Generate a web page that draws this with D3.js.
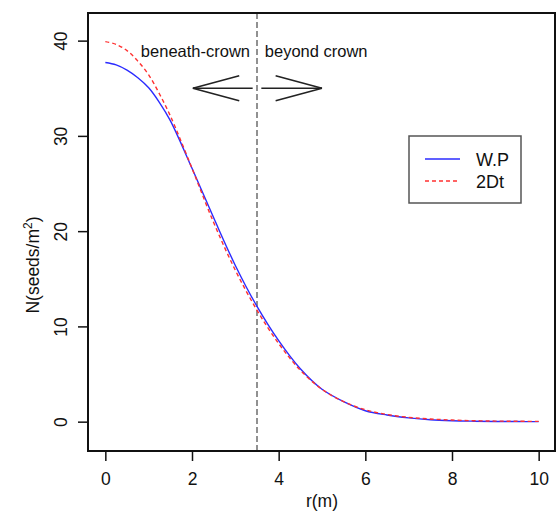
<!DOCTYPE html>
<html>
<head>
<meta charset="utf-8">
<script src="https://cdn.jsdelivr.net/npm/d3@7"></script>
<style>
  body { margin: 0; background: #fff; }
  text { font-family: "Liberation Sans", Arial, sans-serif; fill: #111; }
</style>
</head>
<body>
<svg width="558" height="513"></svg>
<script>
// distance from tree (m)
var rValues = [0, 0.25, 0.5, 0.75, 1, 1.25, 1.5, 2, 2.5, 3, 3.5, 4, 4.5, 5, 5.5, 6, 6.5, 7, 7.5, 8, 8.5, 9, 9.5, 10];
// W.P model (seeds/m2)
var wpValues = [37.7, 37.45, 36.9, 36.1, 35.05, 33.5, 31.6, 26.6, 21.4, 16.4, 12.1, 8.5, 5.55, 3.4, 2.1, 1.15, 0.7, 0.4, 0.2, 0.1, 0.05, 0.02, 0.01, 0.0];
// 2Dt model (seeds/m2)
var dtValues = [39.9, 39.6, 38.95, 37.85, 36.4, 34.4, 32.1, 26.6, 20.9, 15.9, 11.7, 8.2, 5.4, 3.4, 2.1, 1.25, 0.75, 0.45, 0.28, 0.17, 0.1, 0.06, 0.04, 0.03];
var xTicks = [0, 2, 4, 6, 8, 10];
var yTicks = [0, 10, 20, 30, 40];
var crownEdge = 3.5;
var legendLabels = ["W.P", "2Dt"];

var svg = d3.select("svg");
var box = {left: 88, right: 556, top: 13, bottom: 451};

var x = d3.scaleLinear().domain([-0.4, 10.4]).range([box.left, box.right]);
var y = d3.scaleLinear().domain([-3.08, 42.9]).range([box.bottom, box.top]);

var wp = rValues.map(function(r, i) { return {r: r, v: wpValues[i]}; });
var dt = rValues.map(function(r, i) { return {r: r, v: dtValues[i]}; });

var line = d3.line()
    .curve(d3.curveCatmullRom.alpha(0.5))
    .x(function(d) { return x(d.r); })
    .y(function(d) { return y(d.v); });

// crown edge
svg.append("line")
    .attr("x1", x(crownEdge)).attr("x2", x(crownEdge))
    .attr("y1", box.top).attr("y2", box.bottom)
    .style("stroke", "#6e6e6e")
    .style("stroke-width", 1.5)
    .style("stroke-dasharray", "6,3");

// curves
svg.append("path")
    .datum(wp)
    .attr("d", line)
    .style("fill", "none")
    .style("stroke", "#2b2bff")
    .style("stroke-width", 1.4);

svg.append("path")
    .datum(dt)
    .attr("d", line)
    .style("fill", "none")
    .style("stroke", "#ff3030")
    .style("stroke-width", 1.4)
    .style("stroke-dasharray", "4,3");

// x axis
var gx = svg.append("g")
    .attr("transform", "translate(0," + box.bottom + ")")
    .call(d3.axisBottom(x).tickValues(xTicks).tickSize(10).tickFormat(d3.format("d")));
gx.select(".domain").remove();
gx.selectAll(".tick line").style("stroke", "#111").style("stroke-width", 1.5);
gx.selectAll(".tick text")
    .attr("dy", null).attr("y", 34)
    .style("font-size", "17.5px");

// y axis
var gy = svg.append("g")
    .attr("transform", "translate(" + box.left + ",0)")
    .call(d3.axisLeft(y).tickValues(yTicks).tickSize(10).tickFormat(d3.format("d")));
gy.select(".domain").remove();
gy.selectAll(".tick line").style("stroke", "#111").style("stroke-width", 1.5);
gy.selectAll(".tick text")
    .attr("transform", "rotate(-90)")
    .attr("x", 0).attr("y", -21).attr("dy", null)
    .style("text-anchor", "middle")
    .style("font-size", "17.5px");

// box
svg.append("rect")
    .attr("x", box.left).attr("y", box.top)
    .attr("width", box.right - box.left - 1).attr("height", box.bottom - box.top)
    .style("fill", "none")
    .style("stroke", "#111")
    .style("stroke-width", 2);

// axis titles
svg.append("text")
    .attr("x", (x(0) + x(10)) / 2).attr("y", 507)
    .style("text-anchor", "middle")
    .style("font-size", "17.5px")
    .text("r(m)");

var yt = svg.append("text")
    .attr("transform", "translate(39,265) rotate(-90)")
    .style("text-anchor", "middle")
    .style("font-size", "17.5px");
yt.append("tspan").text("N(seeds/m");
yt.append("tspan").attr("dy", -7).style("font-size", "12px").text("2");
yt.append("tspan").attr("dy", 7).text(")");

// annotations
svg.append("text")
    .attr("x", x(0.82)).attr("y", y(38.3))
    .style("font-size", "16.5px")
    .text("beneath-crown");
svg.append("text")
    .attr("x", x(3.68)).attr("y", y(38.3))
    .style("font-size", "16.5px")
    .text("beyond crown");

// arrows: tail -> tip
function arrow(r0, r1, v) {
  var x0 = x(r0), x1 = x(r1), yy = y(v);
  var dir = x1 > x0 ? -1 : 1, len = 48, ang = 15 * Math.PI / 180;
  var g = svg.append("g").style("stroke", "#222").style("stroke-width", 1.6);
  g.append("line").attr("x1", x0).attr("x2", x1).attr("y1", yy).attr("y2", yy);
  g.append("line").attr("x1", x1).attr("y1", yy)
      .attr("x2", x1 + dir * len * Math.cos(ang)).attr("y2", yy - len * Math.sin(ang));
  g.append("line").attr("x1", x1).attr("y1", yy)
      .attr("x2", x1 + dir * len * Math.cos(ang)).attr("y2", yy + len * Math.sin(ang));
}
arrow(3.4, 2.02, 35);
arrow(3.6, 5.0, 35);

// legend
var legend = svg.append("g");
legend.append("rect")
    .attr("x", 409).attr("y", 136)
    .attr("width", 112).attr("height", 67)
    .style("fill", "#fff")
    .style("stroke", "#555")
    .style("stroke-width", 1.5);
legend.append("line")
    .attr("x1", 425).attr("x2", 460).attr("y1", 159).attr("y2", 159)
    .style("stroke", "#2b2bff").style("stroke-width", 1.4);
legend.append("line")
    .attr("x1", 425).attr("x2", 460).attr("y1", 181).attr("y2", 181)
    .style("stroke", "#ff3030").style("stroke-width", 1.4)
    .style("stroke-dasharray", "4,3");
legend.selectAll("text.lab")
    .data(legendLabels)
    .enter().append("text")
    .attr("class", "lab")
    .attr("x", 476).attr("y", function(d, i) { return 165.5 + i * 22.5; })
    .style("font-size", "18px")
    .text(function(d) { return d; });
</script>
</body>
</html>
